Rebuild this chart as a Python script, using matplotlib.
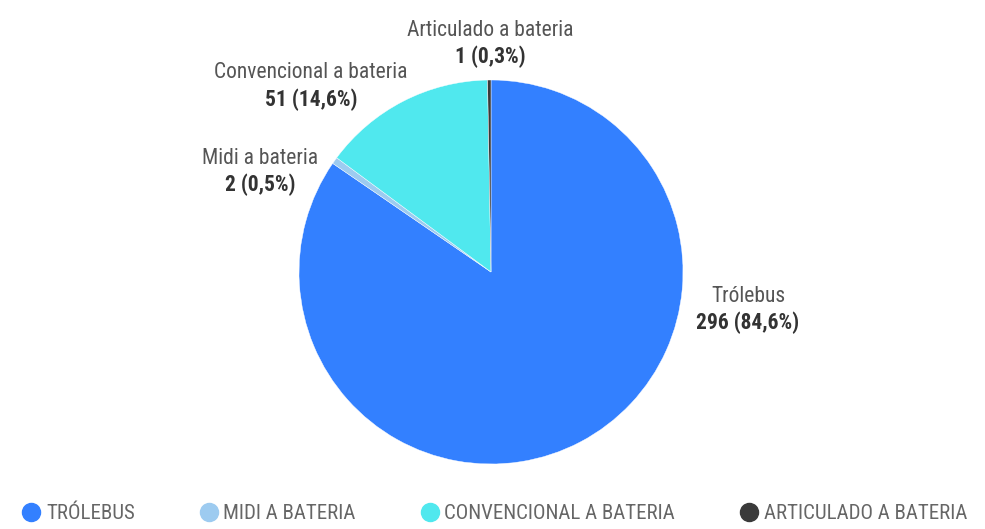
import matplotlib
matplotlib.use("Agg")
import matplotlib.pyplot as plt
from matplotlib import font_manager
from matplotlib.lines import Line2D

categories = ["Trólebus", "Midi a bateria", "Convencional a bateria", "Articulado a bateria"]
values = [296, 2, 51, 1]
percents = ["84,6%", "0,5%", "14,6%", "0,3%"]
legend_labels = ["TRÓLEBUS", "MIDI A BATERIA", "CONVENCIONAL A BATERIA", "ARTICULADO A BATERIA"]
colors = ["#3380FF", "#9DCBF0", "#50E8EE", "#3A3A3A"]

available = {f.name for f in font_manager.fontManager.ttflist}
family = "DejaVu Sans"
for cand in ["Liberation Sans Narrow", "Roboto Condensed", "Open Sans Condensed", "DejaVu Sans"]:
    if cand in available:
        family = cand
        break
plt.rcParams["font.family"] = [family, "DejaVu Sans"]

W, H = 985, 529
fig = plt.figure(figsize=(W / 100, H / 100), dpi=100)
ax = fig.add_axes([0, 0, 1, 1])

cx, cy, r = 491, H - 272, 192
ax.pie(values, colors=colors, startangle=90, counterclock=False,
       center=(cx, cy), radius=r, frame=True,
       wedgeprops=dict(linewidth=0.3, edgecolor="white"))
ax.set_xlim(0, W)
ax.set_ylim(0, H)
ax.set_aspect("equal")
ax.axis("off")

label_pos = [(748, 296), (260, 158), (311, 73), (490, 30)]
for (x, y), name, v, p in zip(label_pos, categories, values, percents):
    ax.text(x, H - y, name, ha="center", va="center", fontsize=15.5, color="#555555")
    ax.text(x, H - y - 27, f"{v} ({p})", ha="center", va="center", fontsize=15.5,
            color="#333333", fontweight="bold")

handles = [Line2D([0], [0], marker="o", linestyle="", markersize=13,
                  markerfacecolor=c, markeredgecolor=c) for c in colors]
leg = fig.legend(handles, legend_labels, loc="lower center", ncol=4,
                 bbox_to_anchor=(0.502, -0.024), frameon=False, fontsize=15,
                 labelcolor="#666666", handletextpad=0.25, columnspacing=3.1,
                 handlelength=0.9)

fig.savefig("out.png", dpi=100)
